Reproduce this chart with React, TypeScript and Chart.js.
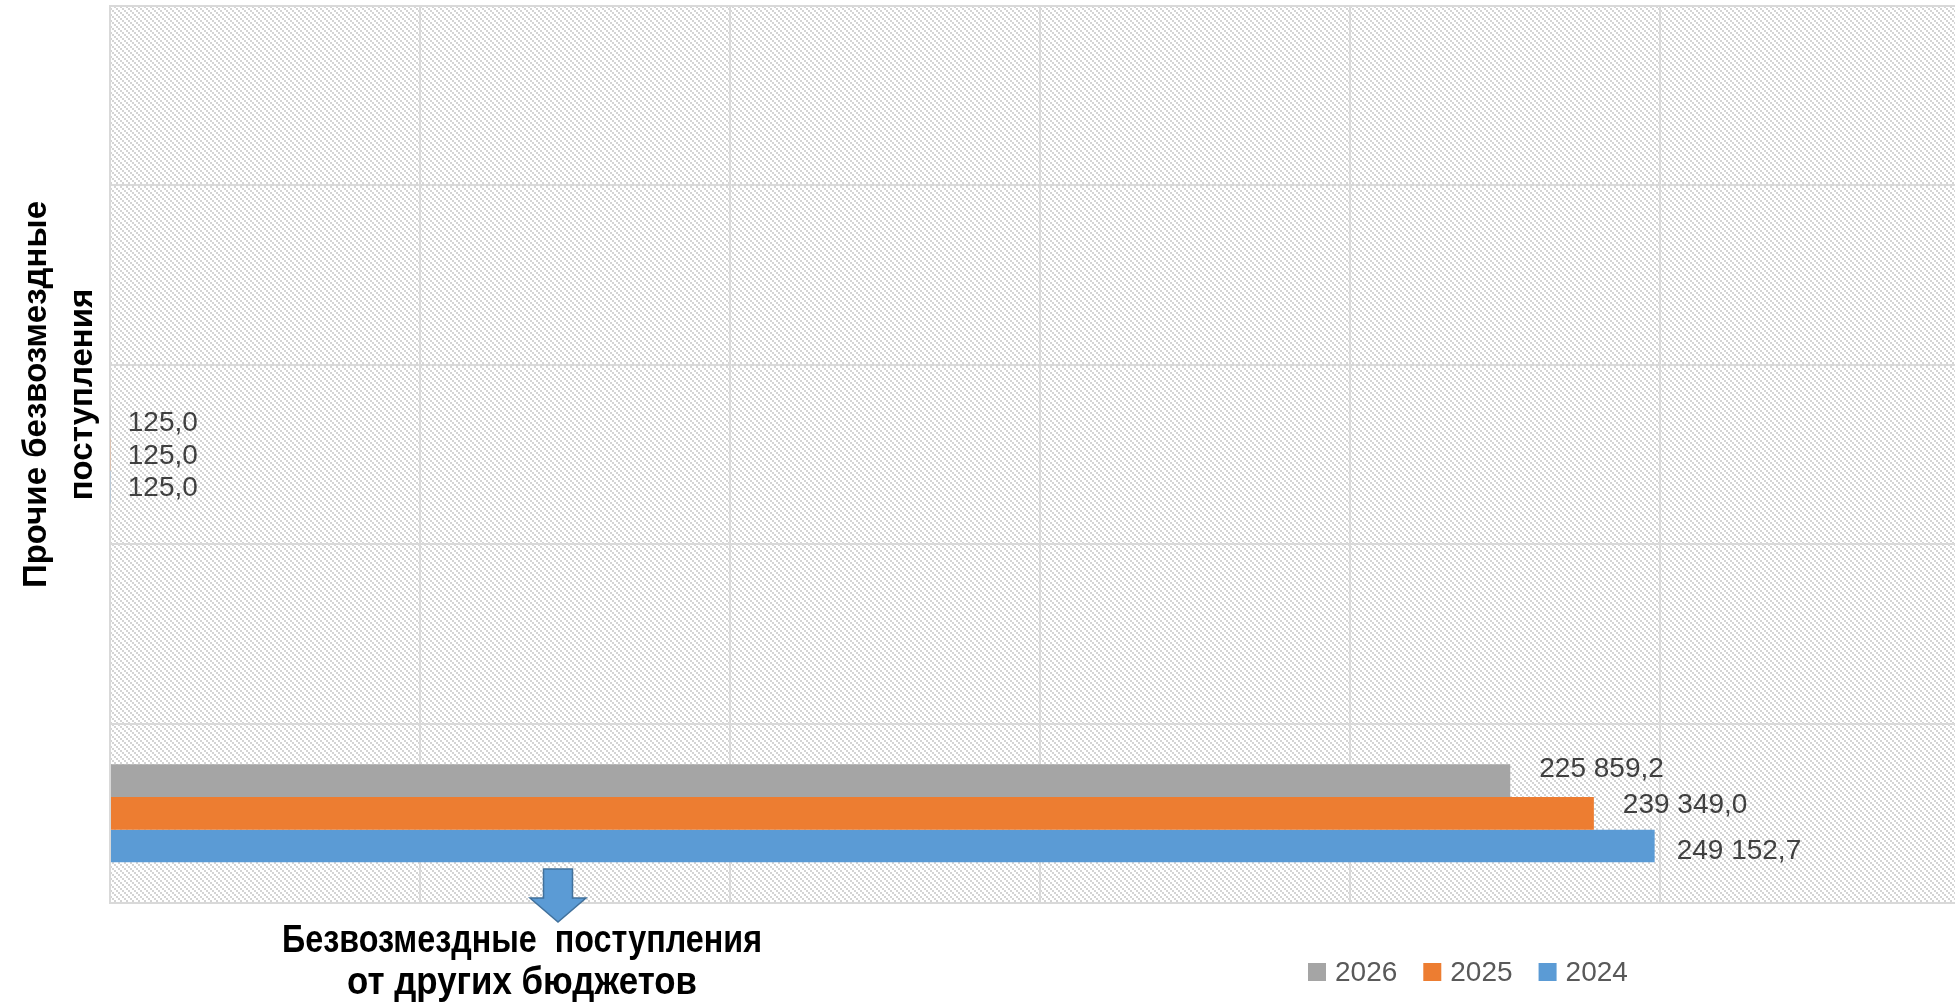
import React, { useEffect, useRef } from 'react';
import { Chart, registerables } from 'chart.js';

Chart.register(...registerables);

// ---- data ----
const categories: string[][] = [
  [''],
  [''],
  ['Прочие безвозмездные', 'поступления'],
  [''],
  ['Безвозмездные  поступления', 'от других бюджетов'],
];
const seriesNames = ['2026', '2025', '2024'];
const values2026 = [null, null, 125.0, null, 225859.2];
const values2025 = [null, null, 125.0, null, 239349.0];
const values2024 = [null, null, 125.0, null, 249152.7];
const xTickValues = [0, 50000, 100000, 150000, 200000, 250000];
const xMax = 297600;

const seriesColors = ['#A5A5A5', '#ED7D31', '#5B9BD5'];

const W = 1955;
const H = 1004;

function fmt(v: number): string {
  const fixed = v.toFixed(1);
  const [intPart, dec] = fixed.split('.');
  const grouped = intPart.replace(/\B(?=(\d{3})+(?!\d))/g, ' ');
  return grouped + ',' + dec;
}

const hatchPlugin = {
  id: 'hatch',
  beforeDraw(chart: any) {
    const { ctx, chartArea: a } = chart;
    const n = 6;
    const tile = document.createElement('canvas');
    tile.width = n;
    tile.height = n;
    const t = tile.getContext('2d')!;
    t.fillStyle = '#ffffff';
    t.fillRect(0, 0, n, n);
    t.fillStyle = '#d4d4d4';
    for (let y = 0; y < n; y++) {
      for (let x = 0; x < n; x++) {
        const bx = Math.floor(x / 2);
        const by = Math.floor(y / 2);
        if ((((bx - by) % 3) + 3) % 3 === 0) t.fillRect(x, y, 1, 1);
      }
    }
    const pat = ctx.createPattern(tile, 'repeat');
    ctx.save();
    ctx.fillStyle = pat;
    ctx.fillRect(a.left, a.top, a.right - a.left, a.bottom - a.top);
    ctx.restore();
  },
};

const valueLabelPlugin = {
  id: 'valueLabels',
  afterDatasetsDraw(chart: any, _args: any, opts: any) {
    const { ctx } = chart;
    ctx.save();
    ctx.font = opts.font;
    ctx.fillStyle = opts.color;
    ctx.textBaseline = 'middle';
    ctx.textAlign = 'left';
    chart.data.datasets.forEach((ds: any, di: number) => {
      const meta = chart.getDatasetMeta(di);
      meta.data.forEach((bar: any, i: number) => {
        const v = ds.data[i];
        if (v == null) return;
        const nudge = (opts.nudge[i] && opts.nudge[i][di]) || [0, 0];
        ctx.fillText(fmt(v), bar.x + opts.offset + nudge[0], bar.y + opts.dy + nudge[1]);
      });
    });
    ctx.restore();
  },
};

const categoryLabelPlugin = {
  id: 'categoryLabels',
  afterDraw(chart: any, _args: any, opts: any) {
    const { ctx } = chart;
    const yScale = chart.scales.y;
    const labels = chart.data.labels as string[][];
    ctx.save();
    ctx.fillStyle = opts.color;
    ctx.textAlign = 'center';
    ctx.textBaseline = 'alphabetic';

    // rotated label on the left
    const L = opts.left;
    ctx.font = L.font;
    const cy = yScale.getPixelForValue(L.index) + L.dy;
    labels[L.index].forEach((line: string, k: number) => {
      ctx.save();
      ctx.translate(L.baselines[k], cy);
      ctx.rotate(-Math.PI / 2);
      ctx.fillText(line, 0, 0);
      ctx.restore();
    });

    // label below with arrow
    const b = opts.bottom;
    const ar = b.arrow;
    ctx.beginPath();
    ctx.moveTo(ar.cx - ar.shaft / 2, ar.top);
    ctx.lineTo(ar.cx + ar.shaft / 2, ar.top);
    ctx.lineTo(ar.cx + ar.shaft / 2, ar.headTop);
    ctx.lineTo(ar.cx + ar.head / 2, ar.headTop);
    ctx.lineTo(ar.cx, ar.tip);
    ctx.lineTo(ar.cx - ar.head / 2, ar.headTop);
    ctx.lineTo(ar.cx - ar.shaft / 2, ar.headTop);
    ctx.closePath();
    ctx.fillStyle = '#5B9BD5';
    ctx.fill();
    ctx.lineWidth = 1.5;
    ctx.strokeStyle = '#41719C';
    ctx.stroke();

    ctx.fillStyle = opts.color;
    ctx.font = b.font;
    labels[b.index].forEach((line: string, k: number) => {
      ctx.fillText(line, b.cx, b.baselines[k], b.maxWidths[k]);
    });
    ctx.restore();
  },
};

const customLegendPlugin = {
  id: 'customLegend',
  afterDraw(chart: any, _args: any, opts: any) {
    const { ctx } = chart;
    ctx.save();
    ctx.font = opts.font;
    ctx.textBaseline = 'middle';
    ctx.textAlign = 'left';
    let x = opts.x;
    chart.data.datasets.forEach((ds: any) => {
      ctx.fillStyle = ds.backgroundColor;
      ctx.fillRect(x, opts.y - opts.box / 2, opts.box, opts.box);
      x += opts.box + opts.gap;
      ctx.fillStyle = opts.color;
      ctx.fillText(ds.label, x, opts.y + 1);
      x += ctx.measureText(ds.label).width + opts.itemGap;
    });
    ctx.restore();
  },
};

export default function App() {
  const canvasRef = useRef<HTMLCanvasElement | null>(null);

  useEffect(() => {
    document.body.style.margin = '0';
    document.body.style.overflow = 'hidden';
    const canvas = canvasRef.current;
    if (!canvas) return;
    const seriesValues = [values2026, values2025, values2024];
    const chart = new Chart(canvas, {
      type: 'bar',
      data: {
        labels: categories as any,
        datasets: seriesNames.map((name, i) => ({
          label: name,
          data: seriesValues[i] as any,
          backgroundColor: seriesColors[i],
          borderWidth: 0,
          categoryPercentage: 0.546,
          barPercentage: 1.0,
        })),
      },
      options: {
        indexAxis: 'y',
        responsive: false,
        animation: false,
        events: [],
        layout: { padding: { left: 110, top: 6, right: 0, bottom: 101 } },
        scales: {
          x: {
            min: 0,
            max: xMax,
            bounds: 'data',
            afterBuildTicks: (scale: any) => {
              scale.ticks = xTickValues.map((value) => ({ value }));
            },
            ticks: { display: false },
            grid: { color: '#d9d9d9', lineWidth: 2, drawTicks: false },
            border: { color: '#d9d9d9', width: 2 },
          },
          y: {
            ticks: { display: false },
            grid: { color: '#d9d9d9', lineWidth: 2, drawTicks: false, offset: true },
            border: { color: '#d9d9d9', width: 2 },
          },
        },
        plugins: {
          legend: { display: false },
          tooltip: { enabled: false },
          valueLabels: {
            font: '28px "Liberation Sans", Arial, sans-serif',
            color: '#404040',
            offset: 17,
            dy: 1.5,
            nudge: { 4: [[12, -13], [12, -10], [5, 4]] },
          },
          categoryLabels: {
            color: '#000000',
            left: {
              index: 2,
              dy: -60,
              baselines: [46, 92],
              font: 'bold 33px "Liberation Sans", Arial, sans-serif',
            },
            bottom: {
              index: 4,
              cx: 522,
              baselines: [952, 994],
              maxWidths: [480, 350],
              font: 'bold 39px "Liberation Sans Narrow", "Liberation Sans", Arial, sans-serif',
              arrow: { cx: 558, shaft: 29, head: 56, top: 869, headTop: 898, tip: 922 },
            },
          },
          customLegend: {
            font: '28px "Liberation Sans", Arial, sans-serif',
            color: '#595959',
            x: 1308,
            y: 972,
            box: 18,
            gap: 9,
            itemGap: 26,
          },
        } as any,
      },
      plugins: [hatchPlugin, valueLabelPlugin, categoryLabelPlugin, customLegendPlugin],
    });
    return () => chart.destroy();
  }, []);

  return (
    <div style={{ position: 'fixed', left: 0, top: 0, width: W, height: H, background: '#ffffff' }}>
      <canvas ref={canvasRef} width={W} height={H} style={{ width: W, height: H, display: 'block' }} />
    </div>
  );
}
